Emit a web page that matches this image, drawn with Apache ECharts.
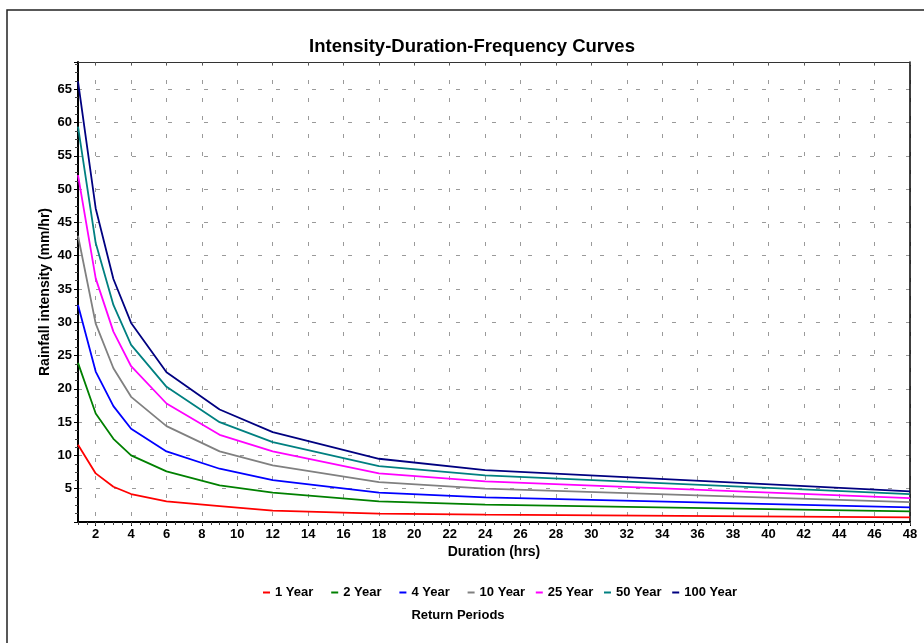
<!DOCTYPE html>
<html><head><meta charset="utf-8">
<script src="https://cdn.jsdelivr.net/npm/echarts@6/dist/echarts.min.js"></script>
<style>html,body{margin:0;padding:0;background:#fff}#c{width:924px;height:643px}</style>
</head><body><div id="c"></div>
<script>
const durations = [1, 2, 3, 4, 6, 9, 12, 18, 24, 48];
const seriesNames = ['1 Year', '2 Year', '4 Year', '10 Year', '25 Year', '50 Year', '100 Year'];
const yr1   = [11.6, 7.3, 5.3, 4.2, 3.1, 2.4, 1.7, 1.25, 1.1, 0.7];
const yr2   = [23.9, 16.3, 12.5, 10.0, 7.6, 5.5, 4.4, 3.1, 2.6, 1.6];
const yr4   = [32.6, 22.6, 17.4, 14.0, 10.6, 8.0, 6.3, 4.4, 3.7, 2.2];
const yr10  = [43.0, 29.8, 23.1, 18.8, 14.4, 10.6, 8.5, 6.0, 5.0, 3.0];
const yr25  = [52.1, 36.6, 28.6, 23.4, 17.8, 13.1, 10.6, 7.3, 6.1, 3.6];
const yr50  = [59.4, 41.9, 32.6, 26.6, 20.3, 15.0, 12.0, 8.4, 7.0, 4.2];
const yr100 = [66.2, 47.1, 36.5, 29.9, 22.5, 16.9, 13.5, 9.5, 7.8, 4.6];
const xTickValues = [2, 4, 6, 8, 10, 12, 14, 16, 18, 20, 22, 24, 26, 28, 30, 32, 34, 36, 38, 40, 42, 44, 46, 48];
const colors = ['#ff0000', '#008000', '#0000ff', '#808080', '#ff00ff', '#008080', '#000080'];

const allValues = [yr1, yr2, yr4, yr10, yr25, yr50, yr100];
const FONT = '"Liberation Sans", Arial, sans-serif';
const chart = echarts.init(document.getElementById('c'), null, {renderer: 'canvas'});
const gridDash = {type: [4, 14], color: '#9a9a9a', width: 1};

const legends = seriesNames.map((n, i) => ({
  data: [n], left: 258 + 68.2 * i, top: 581, icon: 'rect', itemWidth: 7, itemHeight: 2,
  textStyle: {fontFamily: FONT, fontWeight: 'bold', fontSize: 13, color: '#000'}
}));

chart.setOption({
  animation: false,
  textStyle: {fontFamily: FONT},
  color: colors,
  grid: {left: 78, top: 62, right: 14, bottom: 121, containLabel: false},
  legend: legends,
  xAxis: [
    {
      type: 'value', min: 1, max: 48, position: 'bottom',
      name: 'Duration (hrs)', nameLocation: 'middle', nameGap: 23, nameMoveOverlap: false,
      nameTextStyle: {fontFamily: FONT, fontWeight: 'bold', fontSize: 14, color: '#000'},
      axisLine: {show: true, lineStyle: {color: '#000', width: 2}},
      axisTick: {show: true, customValues: xTickValues, length: 4, lineStyle: {color: '#000'}},
      axisLabel: {customValues: xTickValues, fontFamily: FONT, fontWeight: 'bold', fontSize: 13, color: '#000', margin: 6},
      splitLine: {show: true, lineStyle: gridDash}
    },
    {
      type: 'value', min: 1, max: 48, interval: 0.5, position: 'bottom',
      axisLine: {show: false}, axisTick: {show: true, length: 3, lineStyle: {color: '#444'}},
      axisLabel: {show: false}, splitLine: {show: false}
    },
    {
      type: 'value', min: 1, max: 48, position: 'top',
      axisLine: {show: true, lineStyle: {color: '#333', width: 1}},
      axisTick: {show: true, inside: true, customValues: xTickValues, length: 3, lineStyle: {color: '#555'}},
      axisLabel: {show: false}, splitLine: {show: false}
    }
  ],
  yAxis: [
    {
      type: 'value', min: 0, max: 69.1, interval: 5,
      name: 'Rainfall intensity (mm/hr)', nameLocation: 'middle', nameGap: 26, nameRotate: 90, nameMoveOverlap: false,
      nameTextStyle: {fontFamily: FONT, fontWeight: 'bold', fontSize: 14, color: '#000'},
      axisLine: {show: true, lineStyle: {color: '#000', width: 2}},
      axisTick: {show: true, length: 4, lineStyle: {color: '#000'}},
      minorTick: {show: true, splitNumber: 4, length: 3, lineStyle: {color: '#444'}},
      axisLabel: {fontFamily: FONT, fontWeight: 'bold', fontSize: 13, color: '#000', margin: 6,
        formatter: v => (v > 0 && v % 5 === 0) ? String(v) : ''},
      splitLine: {show: true, lineStyle: gridDash}
    },
    {
      type: 'value', min: 0, max: 69.1, position: 'right',
      axisLine: {show: true, lineStyle: {color: '#000', width: 1.5}},
      axisTick: {show: false}, axisLabel: {show: false}, splitLine: {show: false}
    }
  ],
  series: seriesNames.map((n, k) => ({
    name: n, type: 'line', xAxisIndex: 0, yAxisIndex: 0,
    showSymbol: false, symbol: 'none',
    lineStyle: {width: 1.8, color: colors[k]},
    itemStyle: {color: colors[k]},
    data: durations.map((d, i) => [d, allValues[k][i]])
  })),
  graphic: [
    {type: 'rect', silent: true, shape: {x: 7, y: 10, width: 940, height: 660},
     style: {fill: 'none', stroke: '#222', lineWidth: 1.5}},
    {type: 'text', x: 472, y: 47, silent: true,
     style: {text: 'Intensity-Duration-Frequency Curves', font: 'bold 18.5px ' + FONT, fill: '#000', align: 'center', verticalAlign: 'middle'}},
    {type: 'text', x: 458, y: 615, silent: true,
     style: {text: 'Return Periods', font: 'bold 13px ' + FONT, fill: '#000', align: 'center', verticalAlign: 'middle'}}
  ]
});
</script>
</body></html>
